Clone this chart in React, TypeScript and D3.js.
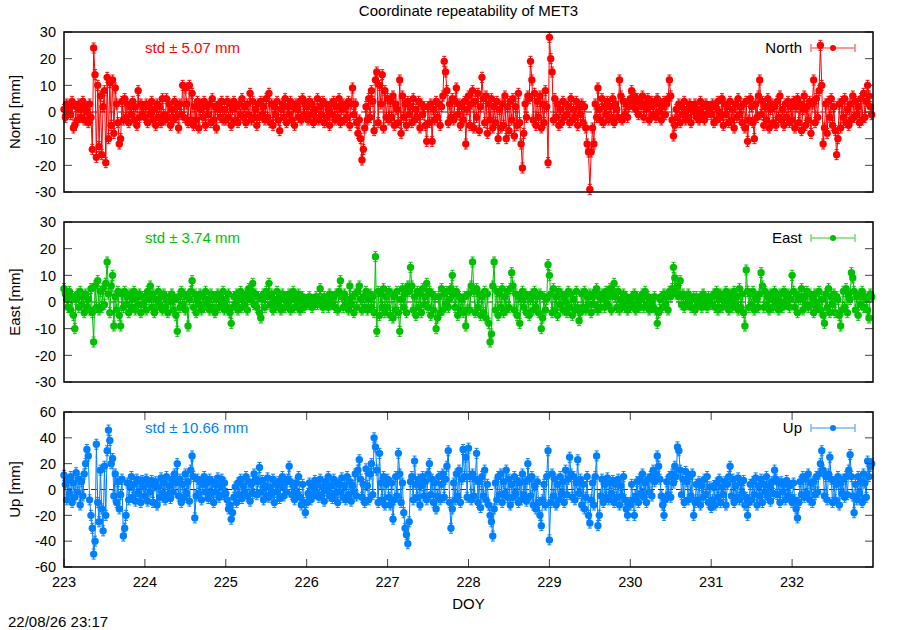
import * as d3 from "d3";
import React from "react";

// samples every 24 min (60 per day), DOY 223.0 .. 232.98
const samplesPerDay = 60;
const startDoy = 223;
const doyTicks = [223, 224, 225, 226, 227, 228, 229, 230, 231, 232];

const northValues = [
  1, -2, 3, 0, 2, -1, 4, -6, -5, 2, -3, 3, 1, -2, 4, -3, 2, 0, -4, 3, -2, -14, 24, 14, -17, 10, -13, 6, -16, 2,
  8, -19, 13, -10, 11, -5, 12, -8, 9, 3, -4, -12, -10, 4, -3, 5, -2, 3, -4, 2, -1, 4, -3, 2, -5, 8, -2, 3, -1, 2,
  -2, 3, -4, 2, -1, 4, -3, 1, -5, 3, -2, 2, -4, 5, -1, -3, 5, -2, 3, -5, 1, -3, 4, -2, 2, -6, 3, -1, 10, -2,
  9, 3, -4, 10, -3, 7, -5, 2, -3, 4, -6, 1, 3, -2, 4, -5, 2, -1, 3, -4, 5, -3, 2, -6, 1, 3, -2, 4, -3, 1,
  -3, 4, -2, 3, -5, 1, 4, -3, 2, -4, 3, -1, 5, -2, 2, -4, 3, -1, 7, -3, 4, -2, 1, -5, 3, -2, 4, -1, 2, -3,
  5, -2, 7, -4, 3, -5, 2, -1, 4, -3, -7, 1, 3, -2, 5, -4, 2, -1, 4, -3, 2, -5, 3, 1, -2, 4, -3, 5, -1, 3,
  2, -3, 4, -1, 3, -4, 1, -2, 5, -3, 2, -1, 4, -4, 3, -2, 1, -5, 3, -1, 4, -3, 2, -2, 5, -4, 1, 3, -3, 2,
  -2, 4, -5, 3, 9, -1, 3, -4, -8, -3, -10, -18, -14, -6, 2, -3, 5, -2, 8, 4, -7, 12, 15, -4, 10, 3, 14, -6, 8, -2,
  5, -3, 4, -2, 6, -5, 3, 1, -4, 12, -8, 6, -2, 3, -5, 4, -1, 2, -4, 5, -3, 1, -2, 4, -6, 3, -1, 2, -5, -11,
  2, -4, 3, -11, 1, -3, 4, -2, 3, -5, 2, 6, 19, 15, 8, -4, 3, -2, 5, -3, 4, 9, -1, 3, -5, 2, -3, 4, -12, 1,
  6, -5, 3, 8, -6, 4, -2, 7, -7, 2, 13, 5, -4, 6, -8, 3, -3, 5, -6, 2, -4, 4, -10, 1, -6, 3, -5, 6, -10, 2,
  -7, 4, -3, 5, -9, 2, -5, 7, -4, -12, -21, -8, 3, -2, 6, 5, 19, 12, -3, 7, -5, 4, -2, 6, -6, 3, -4, 8, 2, -19,
  28, 20, 15, -3, 5, -2, 3, -5, 1, -4, 4, -2, 3, -1, 2, -4, 5, -3, 1, -2, 4, -5, 2, -1, 3, -4, 2, -6, -12, -15,
  -29, -15, -6, -12, 3, -2, 9, 1, -3, 5, -4, 2, -1, 4, -3, 2, -2, 5, -4, 3, 1, -2, 12, 6, -3, 4, -1, 3, -2, 2,
  5, 8, 3, 6, 1, 5, -1, 4, 2, 6, -2, 3, 1, 5, -3, 2, 4, -1, 3, -2, 5, 0, 3, -3, 2, 4, -1, 3, 5, 12,
  6, -3, -9, -5, 1, -2, 3, -4, 2, -1, 4, -3, 1, -2, 3, -4, 2, 0, 3, -2, 1, -3, 4, -1, 2, -3, 3, -1, 2, 0,
  -1, 3, -4, 2, -3, 4, 0, -2, 5, -5, 3, -1, 2, -4, 4, -3, 1, -6, 3, -2, 5, -1, 2, -4, 3, -6, 4, -11, -3, 5,
  2, -4, -10, 3, -2, 6, 12, -1, 4, -5, 2, -3, 5, -6, 1, 3, -4, 2, -5, 4, -2, 6, -3, 1, -5, 3, -2, 4, -4, 2,
  -3, 4, -6, 2, 5, -4, 3, -7, 1, 6, -5, 2, -3, 4, -8, 3, 12, -4, 5, -2, 8, 25, 10, -12, -6, 3, -8, 4, -2, 5,
  -5, 2, -7, -16, -10, 3, -6, 4, -2, 5, -4, 1, -5, 3, -3, 6, -2, 4, -1, 2, -4, 5, -3, 7, -2, 4, 10, 6, 2, -1,
];

const eastValues = [
  5, 3, 1, -2, 4, -3, 2, -5, -10, 1, 3, -2, 4, -1, 2, -4, 3, -2, 1, -3, 5, -4, -15, 6, -2, 8, -3, 4, -2, 5,
  -1, 7, 15, 3, -4, 6, 10, -9, 2, -3, 4, -5, -9, 3, -2, 4, -1, 2, -4, 3, -2, 1, 4, -3, 2, -1, 3, -4, 2, -1,
  2, -3, 4, 1, 6, -2, 3, -4, 1, -2, 4, -1, 2, -3, 3, -2, 1, -4, 2, 0, 3, -3, 1, -5, -11, 2, -2, 4, -1, 3,
  -3, 2, -9, 1, 4, 8, -2, 3, -4, 1, -1, 3, -3, 2, -2, 4, -1, 1, -3, 3, -2, 2, -4, 1, 3, -2, 2, -1, 4, -3,
  1, -2, 3, -4, -8, -2, 2, -1, 3, -3, 1, 4, -2, 2, -1, 3, -3, 5, 1, 4, 7, -1, 3, -2, 2, -4, -6, 1, 3, -2,
  4, 2, 7, -1, 3, -3, 1, -2, 4, -1, 2, -3, 3, 1, -2, 2, -1, 3, -3, 1, 4, -2, 2, -1, 3, -3, 1, 2, -2, 0,
  1, -1, 2, 0, -2, 1, -1, 2, -1, 1, 5, 0, -2, 2, -1, 1, -2, 3, 0, -1, 2, -2, 3, -3, 4, 8, 2, -2, 3, -1,
  1, -3, 6, -1, 2, -4, 3, -2, 4, 6, 1, -3, 2, -2, 4, -3, 1, 3, -2, 2, -4, 17, -11, 4, -5, 3, -2, 5, -4, 2,
  -2, 4, -5, 3, -6, 2, -3, 4, -4, -11, 1, 5, -2, 3, -4, 6, 4, 13, 6, -3, 2, -5, 4, -2, 3, -4, 5, -1, 2, 7,
  -2, 4, -5, 3, -3, 2, -10, -6, 2, -4, 5, -3, 3, -1, 4, -2, 1, 5, 10, 3, -2, 4, -5, 2, -3, 1, -4, 2, -9, -3,
  3, -3, 6, 15, 4, -4, 5, -2, 3, -5, 2, -4, 4, -6, 3, -8, -15, -12, 6, 15, -3, 4, -5, 3, -2, 5, -4, 2, -3, 4,
  -2, 5, 11, 6, -3, 3, -5, 2, -8, 1, 4, -2, 3, -4, 2, -5, 1, 3, -3, 4, -2, 2, -4, 3, -10, -6, 2, -3, 1, 14,
  10, 3, -4, 5, -3, 2, -5, 4, -1, 3, -3, 2, 0, -4, 4, -2, 3, -5, 1, -3, 4, -2, -7, -4, 3, -2, 4, -3, 2, -1,
  3, -4, 2, -1, 4, 5, -3, 2, -2, 3, 1, -2, 4, -1, 2, 5, -3, 3, 7, 2, -2, 4, -3, 1, -1, 3, -2, 2, -3, 0,
  -2, 2, -1, 3, -3, 2, 0, -2, 1, 3, -2, 4, -1, 2, -3, 1, 0, -2, 2, -3, -8, -4, 1, 2, -2, 3, -1, 2, -3, 4,
  2, 5, 13, 9, 3, 6, 2, 8, -1, 3, -2, 2, -1, 3, 0, -2, 1, 2, -3, 2, -1, 0, 2, -2, 3, -1, 1, -2, 2, 1,
  -1, 2, 3, -2, 4, -3, 1, 3, -2, 2, -1, 4, 0, -3, 3, 1, -2, 4, -1, 2, -3, 5, -2, 3, -4, -9, 12, 4, -2, 3,
  -1, 4, -3, 2, 1, -2, 3, 11, 6, -2, 4, -1, 2, -3, 3, 1, -2, 4, -1, 2, -3, 3, 0, -2, 4, -1, 2, 3, -2, 1,
  10, 4, -2, 3, -4, 2, 1, 5, -3, 2, -1, 4, -2, 3, -1, 2, -4, 3, 0, -2, 4, -3, 1, -5, -8, 3, -2, 5, -4, 2,
  -1, 3, -4, 2, 1, -5, -9, -3, 4, -2, 5, -4, 3, 1, 11, 9, 4, -3, 2, -5, 3, -1, 4, -2, 2, 1, -3, -6, 3, 2,
];

const upValues = [
  11, 4, -8, 7, -3, 10, -10, 5, -6, 13, -2, 8, -12, 6, -5, 12, 20, 31, 26, -8, -20, -30, -50, -40, 35, -10, -25, 15, -15, -32,
  18, -20, 30, 46, 38, 20, 24, -5, 12, -10, 6, -15, -4, 8, -36, -30, -20, 5, -8, 3, 10, -6, 4, -9, 8, -3, 6, -10, 7, 2,
  -5, 8, -9, 4, -2, 7, -10, 3, 6, -12, 2, -6, 9, -3, 5, -8, 10, -4, 3, -7, 8, -2, 12, 5, 20, -5, 8, -10, 4, -6,
  12, -3, 6, -9, 15, 26, 10, -22, -5, 8, -3, 6, -8, 4, 10, -2, 5, -7, 8, -3, 6, -10, 4, -2, 9, -6, 3, 8, -4, 5,
  -3, -8, -15, -12, -23, -18, -6, 2, -10, 5, -4, 8, -7, 3, -2, 10, -5, 6, -9, 4, -3, 12, 8, -4, 6, 17, -2, 7, -8, 3,
  -5, 9, -6, 2, -3, 8, -10, 4, -2, 6, -7, 3, 10, -5, 5, -2, 8, 18, 6, -4, 3, -8, 5, -3, 10, -6, -12, 4, -10, -18,
  -10, -3, 5, -8, 2, -5, 7, -2, 4, -6, 8, -4, 2, -9, 6, -1, 10, -5, 3, -7, 8, -3, 5, -10, 4, -2, 9, -6, 3, -8,
  10, -4, 6, -9, 3, -2, 12, -5, 15, 23, 8, -6, 4, -10, 16, 3, -8, 12, 20, -4, 40, 33, 15, -10, 28, 5, -8, 10, -12, 4,
  8, -6, -12, 5, -23, -8, 10, -5, 28, 12, -10, 5, -18, -30, -35, -42, -25, 6, 10, -8, 22, 4, -6, 8, -12, 3, 10, -5, 6, -8,
  12, 20, -4, 8, -10, 5, -15, -5, 10, -8, 4, 12, -6, 8, 18, 30, -10, -30, -15, 5, -8, 12, -5, 15, -10, 8, 31, 10, 25, -6,
  32, 10, -8, 12, -5, 8, 28, -10, 6, -14, 10, -5, 15, -8, 4, -12, -20, -25, -36, -15, 5, -8, 10, -4, 12, -10, 6, -3, 15, -6,
  8, -12, 4, -6, 10, -3, 7, -10, 5, -8, 12, -4, 6, -9, 20, 8, -5, 10, -12, 3, -15, 6, -10, -20, -28, -8, 4, -12, 10, 30,
  -39, -10, 12, -5, 8, -12, 4, -8, 10, -3, 6, -10, 15, -4, 8, 25, 12, -6, 10, -8, 5, 23, -3, 8, -12, 4, -15, -6, 10, -20,
  -26, -8, 5, -12, 10, 26, -28, -20, -5, 8, -10, 4, -6, 9, -8, 5, -3, 7, -10, 4, -6, 8, -12, 3, -5, 10, -8, -15, -20, -10,
  -12, 4, -8, -20, -5, 6, -10, 8, -3, 12, -6, 5, -10, 8, -2, 10, -5, 15, 6, 12, 26, 18, 8, -5, -12, -20, -8, 6, -4, 10,
  -6, 12, 5, 18, 10, 33, 30, 15, -4, 8, -10, 14, 6, -8, 10, -5, 12, -20, -10, 4, -8, 6, -12, 3, -6, 8, -4, 10, -10, 2,
  -14, -8, 3, -12, 5, -6, 8, -10, 2, -4, 6, -12, 4, 10, 18, -5, 8, -10, 3, -6, 9, -8, 5, -3, 7, -12, -6, -20, -10, 4,
  -8, 6, -4, 9, -12, 3, -5, 8, -10, 4, -2, 10, -6, 3, -9, 6, -3, 15, 8, -4, 5, -10, 6, -2, 4, -8, 7, -5, 3, -6,
  -10, 5, -8, -15, -22, -10, 6, -4, 10, -6, 8, -3, 12, -8, 5, -10, 6, -4, 10, -2, 12, 20, 30, 15, -5, 10, -8, 12, 25, 8,
  -10, 6, -8, 4, 10, -12, 5, -3, 8, -6, 10, -4, 15, 27, 10, -5, -18, 4, -8, 10, -3, 6, -10, 12, 5, -6, 22, 10, 18, 20,
];

const componentNames = ["North", "East", "Up"];
const componentStd = ["5.07", "3.74", "10.66"];
const componentColors = ["#ff0000", "#00c000", "#0080ff"];
const yLimits = [30, 30, 60];
const yTickSteps = [10, 10, 20];

const font = "'Liberation Sans', Arial, Helvetica, sans-serif";
const W = 900;
const H = 630;
const left = 64;
const right = 873;
const panelBox = [
  [32, 192],
  [222, 382],
  [412, 567],
];

const x = d3.scaleLinear().domain([startDoy, startDoy + 10]).range([left, right]);

const Panel: React.FC<{ idx: number; values: number[] }> = ({ idx, values }) => {
  const [top, bottom] = panelBox[idx];
  const lim = yLimits[idx];
  const color = componentColors[idx];
  const y = d3.scaleLinear().domain([-lim, lim]).range([bottom, top]);
  const yTicks = d3.range(-lim, lim + 0.1, yTickSteps[idx]);
  const pts = values.map((v, i) => [x(startDoy + i / samplesPerDay), y(v)] as [number, number]);
  const path = d3.line()(pts)!;
  const showX = idx === 2;
  const legY = top + 16;
  return (
    <g>
      {/* zero reference */}
      <line x1={left} x2={right} y1={y(0)} y2={y(0)} stroke="#000" strokeWidth={1} strokeDasharray="6,3" opacity={0.8} />
      <path d={path} fill="none" stroke={color} strokeWidth={1} />
      {pts.map(([px, py], i) => (
        <g key={i} stroke={color} fill={color}>
          <line x1={px} x2={px} y1={py - 5} y2={py + 5} strokeWidth={1} />
          <line x1={px - 2} x2={px + 2} y1={py - 5} y2={py - 5} strokeWidth={1} />
          <line x1={px - 2} x2={px + 2} y1={py + 5} y2={py + 5} strokeWidth={1} />
          <circle cx={px} cy={py} r={3.7} stroke="none" />
        </g>
      ))}
      {/* y ticks, mirrored */}
      {yTicks.map((t) => (
        <g key={t}>
          <line x1={left} x2={left + 8} y1={y(t)} y2={y(t)} stroke="#444" />
          <line x1={right - 8} x2={right} y1={y(t)} y2={y(t)} stroke="#444" />
          <text x={56} y={y(t)} dy="0.36em" textAnchor="end" fontSize={14.5}>
            {t}
          </text>
        </g>
      ))}
      {showX &&
        doyTicks.map((t) => (
          <g key={t}>
            <line x1={x(t)} x2={x(t)} y1={bottom} y2={bottom - 8} stroke="#444" />
            <line x1={x(t)} x2={x(t)} y1={top} y2={top + 8} stroke="#444" />
            <text x={x(t)} y={587} textAnchor="middle" fontSize={14.5}>
              {t}
            </text>
          </g>
        ))}
      <rect x={left} y={top} width={right - left} height={bottom - top} fill="none" stroke="#000" strokeWidth={1.5} />
      <text
        transform={`translate(20,${(top + bottom) / 2}) rotate(-90)`}
        textAnchor="middle"
        fontSize={15}
      >
        {componentNames[idx]} [mm]
      </text>
      <text x={145} y={top + 21} fontSize={15} fill={color}>
        std ± {componentStd[idx]} mm
      </text>
      <text x={802} y={legY} dy="0.36em" textAnchor="end" fontSize={15}>
        {componentNames[idx]}
      </text>
      <g stroke={color} strokeWidth={1.5} opacity={0.55}>
        <line x1={811} x2={855} y1={legY} y2={legY} />
        <line x1={811} x2={811} y1={legY - 4} y2={legY + 4} />
        <line x1={855} x2={855} y1={legY - 4} y2={legY + 4} />
      </g>
      <circle cx={833} cy={legY} r={3} fill={color} />
    </g>
  );
};

export default function App() {
  const series = [northValues, eastValues, upValues];
  return (
    <svg
      width={W}
      height={H}
      style={{ position: "absolute", left: 0, top: 0, background: "#fff" }}
      fontFamily={font}
    >
      <rect width={W} height={H} fill="#fff" />
      <text x={(left + right) / 2} y={16} textAnchor="middle" fontSize={15}>
        Coordinate repeatability of MET3
      </text>
      {series.map((v, i) => (
        <Panel key={i} idx={i} values={v} />
      ))}
      <text x={(left + right) / 2} y={609} textAnchor="middle" fontSize={15}>
        DOY
      </text>
      <text x={8} y={627} fontSize={15}>
        22/08/26 23:17
      </text>
    </svg>
  );
}
